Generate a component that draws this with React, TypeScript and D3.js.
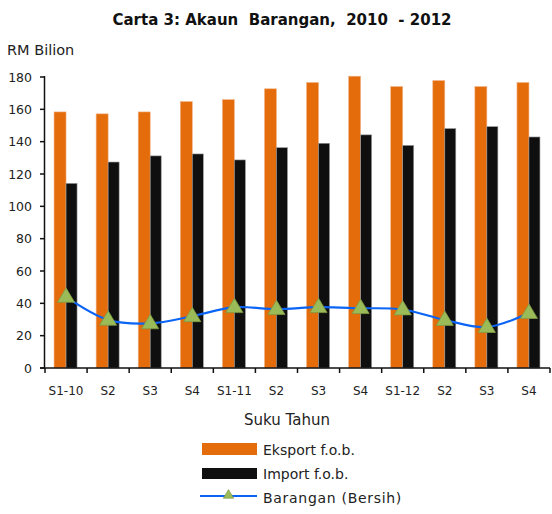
import React from "react";
import * as d3 from "d3";

const categories = ["S1-10", "S2", "S3", "S4", "S1-11", "S2", "S3", "S4", "S1-12", "S2", "S3", "S4"];
const eksport = [158.4, 157.2, 158.4, 164.8, 166.0, 172.7, 176.6, 180.5, 174.1, 177.8, 174.1, 176.6];
const importVals = [114.2, 127.4, 131.2, 132.4, 128.7, 136.3, 139.0, 144.2, 137.7, 148.1, 149.3, 142.9];
const bersih = [44.0, 29.8, 27.6, 32.0, 37.6, 36.4, 37.6, 37.0, 36.2, 29.7, 25.3, 34.0];
const yTicks = [0, 20, 40, 60, 80, 100, 120, 140, 160, 180];

const FONT = "'DejaVu Sans', 'Lato', sans-serif";

export default function App() {
  const W = 552, H = 514;
  const left = 45, right = 550, top = 77, bottom = 368;
  const x = d3.scaleBand<number>().domain(d3.range(categories.length)).range([left, right]);
  const y = d3.scaleLinear().domain([0, 180]).range([bottom, top]);
  const bw = 12;
  const line = d3
    .line<number>()
    .x((_, i) => (x(i) as number) + x.bandwidth() / 2)
    .y((d) => y(d))
    .curve(d3.curveCatmullRom.alpha(0.5));

  const tri = (cx: number, cy: number, s: number) =>
    `M${cx},${cy - s} L${cx + s * 0.95},${cy + s * 0.6} L${cx - s * 0.95},${cy + s * 0.6} Z`;

  return (
    <svg width={W} height={H} style={{ position: "absolute", left: 0, top: 0, background: "#fff" }} fontFamily={FONT}>
      <text x={282} y={25} textAnchor="middle" fontSize={15} fontWeight="bold" fill="#111" style={{ whiteSpace: "pre" }}>
        {"Carta 3: Akaun  Barangan,  2010  - 2012"}
      </text>
      <text x={7} y={55} fontSize={14.5} fill="#222">RM Bilion</text>

      {/* y ticks */}
      {yTicks.map((t) => (
        <g key={t}>
          <line x1={40} x2={45} y1={y(t)} y2={y(t)} stroke="#111" strokeWidth={1.5} />
          <text x={32} y={y(t) + 4.5} textAnchor="end" fontSize={12.5} fill="#222">{t}</text>
        </g>
      ))}

      {/* bars */}
      {categories.map((c, i) => {
        const cx = (x(i) as number) + x.bandwidth() / 2;
        return (
          <g key={i}>
            <rect x={cx - bw} y={y(eksport[i])} width={bw} height={bottom - y(eksport[i])} fill="#E46C0A" stroke="#F2B48A" strokeWidth={0.6} />
            <rect x={cx} y={y(importVals[i])} width={bw - 1} height={bottom - y(importVals[i])} fill="#0F0F0F" stroke="#999" strokeWidth={0.6} />
          </g>
        );
      })}

      {/* axes */}
      <line x1={44.5} x2={44.5} y1={top - 1} y2={bottom + 1} stroke="#111" strokeWidth={1.5} />
      <line x1={40} x2={right} y1={bottom} y2={bottom} stroke="#111" strokeWidth={1.5} />
      {d3.range(categories.length + 1).map((i) => {
        const xx = i < categories.length ? (x(i) as number) : right;
        return <line key={i} x1={xx} x2={xx} y1={bottom} y2={bottom + 5} stroke="#111" strokeWidth={1.5} />;
      })}
      {categories.map((c, i) => (
        <text key={i} x={(x(i) as number) + x.bandwidth() / 2} y={395} textAnchor="middle" fontSize={12} fill="#222">{c}</text>
      ))}
      <text x={287} y={425} textAnchor="middle" fontSize={15} fill="#222">Suku Tahun</text>

      {/* net line */}
      <path d={line(bersih) || ""} fill="none" stroke="#0A64F5" strokeWidth={2.2} />
      {bersih.map((v, i) => (
        <path key={i} d={tri((x(i) as number) + x.bandwidth() / 2, y(v), 9)} fill="#9BBB59" stroke="#7F9A45" strokeWidth={0.8} />
      ))}

      {/* legend */}
      <rect x={202} y={443} width={55} height={12} fill="#E46C0A" />
      <text x={263} y={455} fontSize={14} fill="#222">Eksport f.o.b.</text>
      <rect x={202} y={468} width={55} height={11} fill="#0F0F0F" />
      <text x={263} y={479} fontSize={14} fill="#222">Import f.o.b.</text>
      <line x1={200} x2={257} y1={496} y2={496} stroke="#0A64F5" strokeWidth={2} />
      <path d={tri(228.5, 495, 5.5)} fill="#9BBB59" stroke="#7F9A45" strokeWidth={0.6} />
      <text x={263} y={503} fontSize={14} fill="#222" letterSpacing={0.7}>Barangan (Bersih)</text>
    </svg>
  );
}
